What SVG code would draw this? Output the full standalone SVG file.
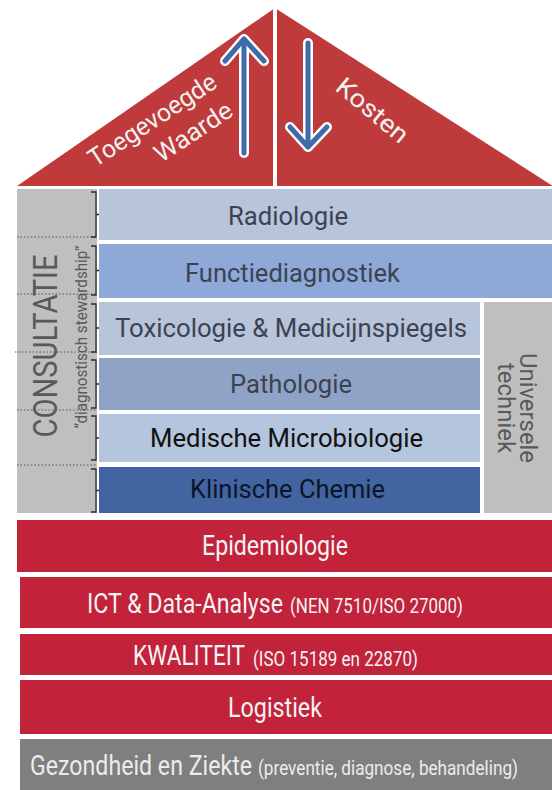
<svg xmlns="http://www.w3.org/2000/svg" width="552" height="790" viewBox="0 0 552 790">
<style>
text{font-family:Roboto,"Liberation Sans",sans-serif}
.w{fill:#f2f2f2}
.mid{font-size:26px;fill:#3b4352}
.big{font-size:27px;fill:#f4f4f4}
.sm{font-size:20px;fill:#f4f4f4}
.br{fill:none;stroke:#2b2b2b;stroke-width:1.3}
.dot{stroke:#555;stroke-width:1;stroke-dasharray:1.5 2}
.arw{fill:none;stroke-linecap:round;stroke-linejoin:round}
</style>
<rect width="552" height="790" fill="#fff"/>
<g id="roof">
<polygon points="17,186 275,8 556,188 556,186" fill="#bf3b3b"/>
<line x1="275" y1="0" x2="275" y2="187" stroke="#fff" stroke-width="4"/>
<g class="arw">
<path d="M244,153 V40 M225,61 L244,39 L264,61" stroke="#fff" stroke-width="10"/>
<path d="M244,153 V40 M225,61 L244,39 L264,61" stroke="#3f6bab" stroke-width="5"/>
<path d="M308,43 V147 M290,127 L308,147 L327,127" stroke="#fff" stroke-width="10"/>
<path d="M308,43 V147 M290,127 L308,147 L327,127" stroke="#3f6bab" stroke-width="5"/>
</g>
<text transform="translate(157,127) rotate(-33.5)" text-anchor="middle" font-size="25" class="w" textLength="148" lengthAdjust="spacingAndGlyphs">Toegevoegde</text>
<text transform="translate(198,139) rotate(-33.5)" text-anchor="middle" font-size="25" class="w" textLength="88" lengthAdjust="spacingAndGlyphs">Waarde</text>
<text transform="translate(367,117) rotate(40)" text-anchor="middle" font-size="25" class="w" textLength="86" lengthAdjust="spacingAndGlyphs">Kosten</text>
</g>
<g id="consultatie">
<rect x="17" y="189" width="80" height="324" fill="#bfbfbf"/>
<line class="dot" x1="17" y1="237" x2="97" y2="237"/>
<line class="dot" x1="17" y1="294" x2="97" y2="294"/>
<line class="dot" x1="15" y1="352" x2="97" y2="352"/>
<line class="dot" x1="17" y1="410" x2="97" y2="410"/>
<line class="dot" x1="17" y1="465" x2="97" y2="465"/>
<text transform="translate(57,346) rotate(-90)" text-anchor="middle" font-size="34" fill="#595959" textLength="183" lengthAdjust="spacingAndGlyphs">CONSULTATIE</text>
<text transform="translate(87,337) rotate(-90)" text-anchor="middle" font-size="17" fill="#595959" textLength="183" lengthAdjust="spacingAndGlyphs">“diagnostisch stewardship”</text>
</g>
<g id="brackets">
<path class="br" d="M91,192 H96 V237 H91 M96,214.5 H106"/>
<path class="br" d="M91,246 H96 V295 H91 M96,270.5 H106"/>
<path class="br" d="M91,304 H96 V352 H91 M96,328 H106"/>
<path class="br" d="M91,360 H96 V408 H91 M96,384 H106"/>
<path class="br" d="M91,416 H96 V460 H91 M96,438 H106"/>
<path class="br" d="M91,469 H96 V512 H91 M96,490.5 H106"/>
</g>
<g id="radiologie">
<rect x="99" y="189" width="453" height="51" fill="#b7c4da"/>
<text class="mid" transform="translate(228,225) scale(0.85,1)" textLength="141.2" lengthAdjust="spacingAndGlyphs">Radiologie</text>
</g>
<g id="functiediagnostiek">
<rect x="99" y="244" width="453" height="54" fill="#8ea9d8"/>
<text class="mid" transform="translate(185,282) scale(0.85,1)" textLength="252.9" lengthAdjust="spacingAndGlyphs">Functiediagnostiek</text>
</g>
<g id="toxicologie">
<rect x="99" y="302" width="381" height="53" fill="#b7c4da"/>
<text class="mid" transform="translate(115,337) scale(0.85,1)" textLength="414.1" lengthAdjust="spacingAndGlyphs">Toxicologie &amp; Medicijnspiegels</text>
</g>
<g id="pathologie">
<rect x="99" y="358" width="381" height="52" fill="#8fa3c6"/>
<text class="mid" transform="translate(230,393) scale(0.85,1)" textLength="143.5" lengthAdjust="spacingAndGlyphs">Pathologie</text>
</g>
<g id="microbiologie">
<rect x="99" y="414" width="381" height="48" fill="#b6c5de"/>
<text class="mid" transform="translate(150,447) scale(0.85,1)" textLength="321.2" lengthAdjust="spacingAndGlyphs" style="fill:#111">Medische Microbiologie</text>
</g>
<g id="klinische-chemie">
<rect x="99" y="467" width="381" height="46" fill="#4264a0"/>
<text class="mid" transform="translate(190,498) scale(0.85,1)" textLength="229.4" lengthAdjust="spacingAndGlyphs" style="fill:#0d1628">Klinische Chemie</text>
</g>
<g id="universele-techniek">
<rect x="484" y="302" width="68" height="211" fill="#bfbfbf"/>
<text transform="translate(520,408) rotate(90)" text-anchor="middle" font-size="23" fill="#595959" textLength="110" lengthAdjust="spacingAndGlyphs">Universele</text>
<text transform="translate(498,408) rotate(90)" text-anchor="middle" font-size="23" fill="#595959" textLength="90" lengthAdjust="spacingAndGlyphs">techniek</text>
</g>
<g id="epidemiologie">
<rect x="17" y="520" width="535" height="52" fill="#c2223a"/>
<text class="big" transform="translate(202,555) scale(0.85,1)" textLength="171.8" lengthAdjust="spacingAndGlyphs">Epidemiologie</text>
</g>
<g id="ict">
<rect x="20" y="577" width="532" height="51" fill="#c2223a"/>
<text class="big" transform="translate(87,613) scale(0.85,1)" textLength="230.6" lengthAdjust="spacingAndGlyphs">ICT &amp; Data-Analyse</text>
<text class="sm" transform="translate(290,613) scale(0.85,1)" textLength="203.5" lengthAdjust="spacingAndGlyphs">(NEN 7510/ISO 27000)</text>
</g>
<g id="kwaliteit">
<rect x="20" y="634" width="532" height="41" fill="#c2223a"/>
<text class="big" transform="translate(133,665) scale(0.85,1)" textLength="131.8" lengthAdjust="spacingAndGlyphs">KWALITEIT</text>
<text class="sm" transform="translate(253,666) scale(0.85,1)" textLength="194.1" lengthAdjust="spacingAndGlyphs">(ISO 15189 en 22870)</text>
</g>
<g id="logistiek">
<rect x="20" y="680" width="532" height="54" fill="#c2223a"/>
<text class="big" transform="translate(228,717) scale(0.85,1)" textLength="110.6" lengthAdjust="spacingAndGlyphs">Logistiek</text>
</g>
<g id="gezondheid">
<rect x="20" y="739" width="532" height="51" fill="#7f7f7f"/>
<text class="big" transform="translate(30,775) scale(0.85,1)" textLength="261.2" lengthAdjust="spacingAndGlyphs" style="fill:#ececec">Gezondheid en Ziekte</text>
<text class="sm" transform="translate(258,775) scale(0.815,1)" textLength="319" lengthAdjust="spacingAndGlyphs" style="font-size:21px;fill:#ececec">(preventie, diagnose, behandeling)</text>
</g>
</svg>
